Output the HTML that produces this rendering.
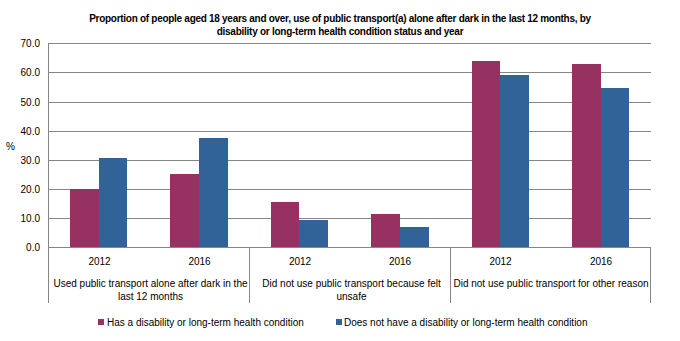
<!DOCTYPE html>
<html><head><meta charset="utf-8"><style>
html,body{margin:0;padding:0;background:#fff;}
body{width:680px;height:341px;position:relative;overflow:hidden;font-family:"Liberation Sans",sans-serif;color:#000;}
div{position:absolute;}
.g{height:1px;background:#868686;}
.v{width:1px;background:#868686;}
.t{white-space:nowrap;font-size:10px;line-height:12px;}
.tb{font-weight:bold;}
.yl{width:40px;text-align:right;left:0;}
.c{text-align:center;}
.m{background:#973161;}
.b{background:#316298;}
</style></head><body>

<div class="g" style="left:48px;width:603px;top:43px"></div>
<div class="g" style="left:48px;width:603px;top:72px"></div>
<div class="g" style="left:48px;width:603px;top:102px"></div>
<div class="g" style="left:48px;width:603px;top:131px"></div>
<div class="g" style="left:48px;width:603px;top:160px"></div>
<div class="g" style="left:48px;width:603px;top:189px"></div>
<div class="g" style="left:48px;width:603px;top:218px"></div>
<div class="g" style="left:48px;width:603px;top:247px"></div>
<div class="t yl" style="top:38px">70.0</div>
<div class="t yl" style="top:67px">60.0</div>
<div class="t yl" style="top:97px">50.0</div>
<div class="t yl" style="top:126px">40.0</div>
<div class="t yl" style="top:155px">30.0</div>
<div class="t yl" style="top:184px">20.0</div>
<div class="t yl" style="top:213px">10.0</div>
<div class="t yl" style="top:242px">0.0</div>
<div class="v" style="left:48px;top:43px;height:260px"></div>
<div class="v" style="left:249px;top:247px;height:56px"></div>
<div class="v" style="left:450px;top:247px;height:56px"></div>
<div class="v" style="left:650px;top:247px;height:56px"></div>
<div class="m" style="left:70px;width:29px;top:189px;height:58px"></div>
<div class="b" style="left:99px;width:28px;top:158px;height:89px"></div>
<div class="m" style="left:170px;width:29px;top:174px;height:73px"></div>
<div class="b" style="left:199px;width:29px;top:138px;height:109px"></div>
<div class="m" style="left:271px;width:28px;top:202px;height:45px"></div>
<div class="b" style="left:299px;width:29px;top:220px;height:27px"></div>
<div class="m" style="left:371px;width:29px;top:214px;height:33px"></div>
<div class="b" style="left:400px;width:29px;top:227px;height:20px"></div>
<div class="m" style="left:472px;width:28px;top:61px;height:186px"></div>
<div class="b" style="left:500px;width:29px;top:75px;height:172px"></div>
<div class="m" style="left:572px;width:29px;top:64px;height:183px"></div>
<div class="b" style="left:601px;width:28px;top:88px;height:159px"></div>
<div class="g" style="left:48px;width:603px;top:247px"></div>
<div class="t tb c" style="left:0;width:680px;top:13px;font-size:10px;letter-spacing:-0.285px">Proportion of people aged 18 years and over, use of public transport(a) alone after dark in the last 12 months, by</div>
<div class="t tb c" style="left:0;width:680px;top:26px;font-size:10px;letter-spacing:-0.26px">disability or long-term health condition status and year</div>
<div class="t" style="left:6px;top:141px">%</div>
<div class="t c" style="left:69.5px;width:60px;top:256px">2012</div>
<div class="t c" style="left:169.5px;width:60px;top:256px">2016</div>
<div class="t c" style="left:270px;width:60px;top:256px">2012</div>
<div class="t c" style="left:370px;width:60px;top:256px">2016</div>
<div class="t c" style="left:470.5px;width:60px;top:256px">2012</div>
<div class="t c" style="left:571px;width:60px;top:256px">2016</div>
<div class="t c" style="left:50px;width:201px;top:277px;line-height:13px">Used public transport alone after dark in the<br>last 12 months</div>
<div class="t c" style="left:251px;width:201px;top:277px;line-height:13px">Did not use public transport because felt<br>unsafe</div>
<div class="t c" style="left:451px;width:200px;top:277px;line-height:13px">Did not use public transport for other reason</div>
<div class="m" style="left:98px;top:319px;width:6px;height:6px"></div>
<div class="t" style="left:107px;top:317px">Has a disability or long-term health condition</div>
<div class="b" style="left:336px;top:319px;width:6px;height:6px"></div>
<div class="t" style="left:344px;top:317px">Does not have a disability or long-term health condition</div>
</body></html>
